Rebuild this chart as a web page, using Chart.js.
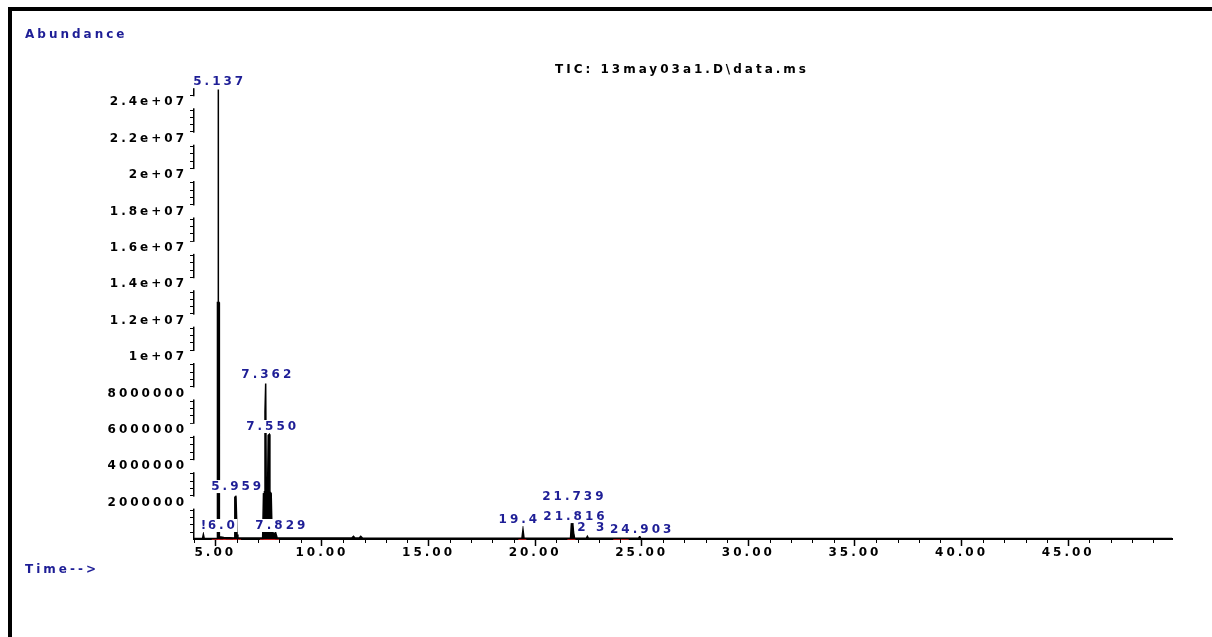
<!DOCTYPE html>
<html><head><meta charset="utf-8">
<style>
html,body{margin:0;padding:0;background:#fff;}
#wrap{position:relative;width:1212px;height:637px;overflow:hidden;background:#fff;}
#frame{position:absolute;left:8px;top:7px;right:-10px;bottom:-10px;border-top:4px solid #000;border-left:4px solid #000;}
canvas{position:absolute;left:0;top:0;}
</style>
<script src="https://cdn.jsdelivr.net/npm/chart.js@4.4.1/dist/chart.umd.min.js"></script>
</head><body>
<div id="wrap"><div id="frame"></div><canvas id="c" width="1212" height="637"></canvas></div>
<script>
// ---- data ----
const retentionTimes = [4.00,4.40,4.44,4.48,5.095,5.10,5.13,5.137,5.145,5.175,5.18,5.20,5.40,5.90,5.915,5.945,5.959,5.97,5.995,6.02,6.06,7.22,7.26,7.30,7.33,7.362,7.39,7.45,7.48,7.53,7.56,7.62,7.66,7.75,7.829,7.90,11.40,11.48,11.55,11.75,11.82,11.90,19.38,19.43,19.48,21.66,21.70,21.739,21.77,21.80,21.85,22.40,22.45,22.50,24.85,24.903,24.95,49.87];
const abundances = [30000,30000,250000,30000,40000,13000000,13000000,24700000,13000000,13000000,120000,120000,80000,60000,2300000,2300000,2380000,2300000,2300000,250000,60000,60000,2600000,2600000,7000000,8550000,2600000,2600000,5700000,5750000,2600000,2500000,400000,300000,350000,60000,50000,150000,50000,50000,150000,50000,40000,520000,40000,40000,850000,1580000,800000,400000,40000,40000,150000,40000,40000,150000,40000,30000];

const xTickValues = [5,10,15,20,25,30,35,40,45];
const xTickLabels = ['5.00','10.00','15.00','20.00','25.00','30.00','35.00','40.00','45.00'];
const yTickValues = [2e6,4e6,6e6,8e6,1e7,1.2e7,1.4e7,1.6e7,1.8e7,2e7,2.2e7,2.4e7];
const yTickLabels = ['2000000','4000000','6000000','8000000','1e+07','1.2e+07','1.4e+07','1.6e+07','1.8e+07','2e+07','2.2e+07','2.4e+07'];

const peakLabelTexts = ['5.137','7.362','7.550','5.959','7.829','6.0','!','19.4','21.739','21.816','2 3','24.903'];
const peakLabelTimes = [5.137,7.39,7.62,5.98,8.05,5.28,4.44,19.19,21.77,21.82,22.61,24.95];
const peakLabelHeights = [24830000,8740000,5880000,2580000,440000,440000,440000,770000,2030000,930000,330000,220000];

const markTimes = [5.02,5.30,5.55,5.92,6.02,7.28,7.45,7.62,7.80,19.40,21.70,23.85,24.20];
const markValues = [0,0,0,0,0,0,0,0,0,0,0,0,0];

const titleText = 'TIC: 13may03a1.D\\data.ms';
const yAxisText = 'Abundance';
const xAxisText = 'Time-->';

const SPACING = '3px';
const FONT = "bold 12px 'DejaVu Sans'";
const NAVY = '#1e1e96';

const decorPlugin = {
  id: 'decor',
  beforeDraw(chart) {
    chart.ctx.letterSpacing = SPACING;
  },
  afterDatasetsDraw(chart) {
    const ctx = chart.ctx, xs = chart.scales.x, ys = chart.scales.y;
    ctx.save();
    ctx.letterSpacing = SPACING;
    ctx.font = FONT;
    ctx.textAlign = 'center';
    ctx.textBaseline = 'bottom';
    peakLabelTexts.forEach((t, i) => {
      const cx = xs.getPixelForValue(peakLabelTimes[i]);
      const by = ys.getPixelForValue(peakLabelHeights[i]);
      const w = ctx.measureText(t).width;
      ctx.fillStyle = '#fff';
      ctx.fillRect(cx - w / 2 - 1, by - 12, w + 2, 13);
      ctx.fillStyle = NAVY;
      ctx.fillText(t, cx + 1.5, by + 1);
    });
    ctx.restore();
  },
  afterDraw(chart) {
    const ctx = chart.ctx, xs = chart.scales.x, ys = chart.scales.y;
    const area = chart.chartArea;
    ctx.save();
    ctx.strokeStyle = '#000';
    ctx.lineWidth = 1;
    for (let v = Math.ceil(xs.min); v <= xs.max; v++) {
      if (v % 5 === 0) continue;
      const px = Math.round(xs.getPixelForValue(v)) + 0.5;
      ctx.beginPath(); ctx.moveTo(px, area.bottom); ctx.lineTo(px, area.bottom + 4); ctx.stroke();
    }
    for (let k = 1; k * 4e5 <= ys.max; k++) {
      if (k % 5 === 0) continue;
      const py = Math.round(ys.getPixelForValue(k * 4e5)) + 0.5;
      ctx.beginPath(); ctx.moveTo(area.left - 4, py); ctx.lineTo(area.left, py); ctx.stroke();
    }
    ctx.fillStyle = '#fff';
    yTickValues.forEach(v => {
      const py = ys.getPixelForValue(v);
      ctx.fillRect(area.left - 6, py - 6, 7, 12);
    });
    ctx.letterSpacing = SPACING;
    ctx.font = FONT;
    ctx.textBaseline = 'middle';
    ctx.textAlign = 'left';
    ctx.fillStyle = NAVY;
    ctx.fillText(yAxisText, 25, 35);
    ctx.fillText(xAxisText, 25, 570);
    ctx.fillStyle = '#000';
    ctx.fillText(titleText, 555, 70);
    ctx.restore();
  }
};

const traceData = retentionTimes.map((t, i) => ({ x: t, y: abundances[i] }));
const markData = markTimes.map((t, i) => ({ x: t, y: markValues[i] }));

new Chart(document.getElementById('c'), {
  type: 'line',
  data: {
    datasets: [
      {
        label: 'TIC',
        data: traceData,
        borderColor: '#000',
        backgroundColor: '#000',
        borderWidth: 1.5,
        pointRadius: 0,
        tension: 0,
        fill: 'origin'
      },
      {
        label: 'events',
        data: markData,
        showLine: false,
        pointStyle: 'line',
        pointRadius: 4,
        borderColor: '#d02020',
        borderWidth: 1.5,
        clip: false
      }
    ]
  },
  options: {
    responsive: false,
    animation: false,
    devicePixelRatio: 1,
    layout: { padding: { top: 89, right: 40, left: 0, bottom: 0 } },
    plugins: { legend: { display: false }, tooltip: { enabled: false }, title: { display: false } },
    scales: {
      x: {
        type: 'linear',
        min: 4.0,
        max: 49.87,
        afterFit(scale) { scale.height = 98; },
        afterBuildTicks(scale) { scale.ticks = xTickValues.map(v => ({ value: v })); },
        border: { display: true, color: '#000', width: 2 },
        grid: { display: true, drawOnChartArea: false, drawTicks: true, tickLength: 7, tickColor: '#000', tickWidth: 1.5 },
        ticks: {
          autoSkip: false, maxRotation: 0, padding: 0,
          color: '#000',
          font: { family: 'DejaVu Sans', size: 12, weight: 'bold' },
          callback: (v, i) => xTickLabels[i]
        }
      },
      y: {
        type: 'linear',
        min: 0,
        max: 24730000,
        afterFit(scale) { scale.width = 194; },
        afterBuildTicks(scale) { scale.ticks = yTickValues.map(v => ({ value: v })); },
        border: { display: true, color: '#000', width: 1.5 },
        grid: { display: true, drawOnChartArea: false, drawTicks: true, tickLength: 5, tickColor: '#000' },
        ticks: {
          autoSkip: false, padding: 2,
          color: '#000',
          font: { family: 'DejaVu Sans', size: 12, weight: 'bold' },
          callback: (v, i) => yTickLabels[i]
        }
      }
    }
  },
  plugins: [decorPlugin]
});
</script>
</body></html>
